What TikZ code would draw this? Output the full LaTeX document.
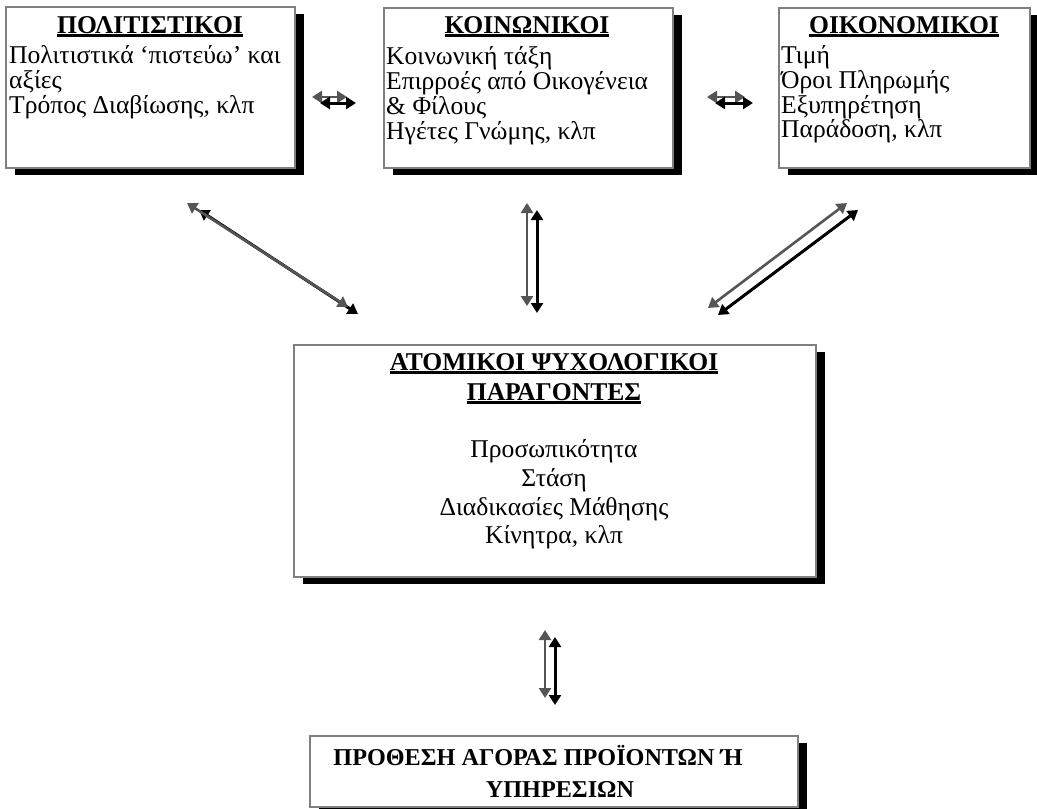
\documentclass[tikz,border=0pt]{standalone}
\usepackage{fontspec}
\setmainfont{Liberation Serif}
\usetikzlibrary{arrows.meta,shadows}
\definecolor{boxgray}{HTML}{808080}
\definecolor{arrgray}{HTML}{555555}
\newlength\ulw
\newcommand\myul[1]{\settowidth\ulw{#1}\rlap{\rule[-4pt]{\ulw}{2.6pt}}#1}
\begin{document}
\begin{tikzpicture}[x=1pt,y=-1pt,
  box/.style={draw=boxgray,line width=1.8pt,fill=white,anchor=north west,inner sep=0,
    drop shadow={shadow xshift=9pt,shadow yshift=-7pt,opacity=1,fill=black}},
  txt/.style={inner sep=0,anchor=base west,font=\fontsize{25.6}{25}\selectfont},
  ttl/.style={inner sep=0,anchor=base,font=\fontsize{25.6}{25}\selectfont\bfseries},
  ctr/.style={inner sep=0,anchor=base,font=\fontsize{25.6}{25}\selectfont},
  bttl/.style={inner sep=0,anchor=base,font=\fontsize{24.2}{25}\selectfont\bfseries},
  garr/.style={draw=arrgray,line width=2.6pt,{Triangle[length=10pt,width=12pt]}-{Triangle[length=10pt,width=12pt]}},
  barr/.style={draw=black,line width=3pt,{Triangle[length=10pt,width=12pt]}-{Triangle[length=10pt,width=12pt]}}]
\useasboundingbox (0,0) rectangle (1037,809);
\fill[white] (0,0) rectangle (1037,809);

% boxes
\node[box,minimum width=289pt,minimum height=161pt] (pol) at (5,6) {};
\node[box,minimum width=289pt,minimum height=160pt] (koi) at (383,7) {};
\node[box,minimum width=251pt,minimum height=160pt] (oik) at (778,7) {};
\node[box,minimum width=522pt,minimum height=232pt] (ato) at (293,344) {};
\node[box,minimum width=488pt,minimum height=71pt] (pro) at (309,735) {};

% box texts
\node[ttl] (pol-t) at (150,33) {\myul{ΠΟΛΙΤΙΣΤΙΚΟΙ}};
\node[txt] (pol-1) at (9,63) {Πολιτιστικά ‘πιστεύω’ και};
\node[txt] (pol-2) at (9,88) {αξίες};
\node[txt] (pol-3) at (9,113) {Τρόπος Διαβίωσης, κλπ};

\node[ttl] (koi-t) at (527,33) {\myul{ΚΟΙΝΩΝΙΚΟΙ}};
\node[txt] (koi-1) at (386,64) {Κοινωνική τάξη};
\node[txt] (koi-2) at (386,89) {Επιρροές από Οικογένεια};
\node[txt] (koi-3) at (386,114) {\& Φίλους};
\node[txt] (koi-4) at (386,139) {Ηγέτες Γνώμης, κλπ};

\node[ttl] (oik-t) at (904,33) {\myul{ΟΙΚΟΝΟΜΙΚΟΙ}};
\node[txt] (oik-1) at (781,63) {Τιμή};
\node[txt] (oik-2) at (781,88) {Όροι Πληρωμής};
\node[txt] (oik-3) at (781,113) {Εξυπηρέτηση};
\node[txt] (oik-4) at (781,137) {Παράδοση, κλπ};

\node[ttl] (ato-t1) at (554,370) {\myul{ΑΤΟΜΙΚΟΙ ΨΥΧΟΛΟΓΙΚΟΙ}};
\node[ttl] (ato-t2) at (554,400) {\myul{ΠΑΡΑΓΟΝΤΕΣ}};
\node[ctr] (ato-1) at (554,457) {Προσωπικότητα};
\node[ctr] (ato-2) at (554,486) {Στάση};
\node[ctr] (ato-3) at (554,515) {Διαδικασίες Μάθησης};
\node[ctr] (ato-4) at (554,543) {Κίνητρα, κλπ};

\node[bttl] (pro-1) at (538,765) {ΠΡΟΘΕΣΗ ΑΓΟΡΑΣ ΠΡΟΪΟΝΤΩΝ Ή};
\node[bttl] (pro-2) at (560,797) {ΥΠΗΡΕΣΙΩΝ};

% connector end points
\coordinate (h1ga) at (312,97);  \coordinate (h1gb) at (347,97);
\coordinate (h1ba) at (320,103); \coordinate (h1bb) at (356,103);
\coordinate (h2ga) at (707,97);  \coordinate (h2gb) at (745,97);
\coordinate (h2ba) at (715,103); \coordinate (h2bb) at (753,103);
\coordinate (dlga) at (187,203); \coordinate (dlgb) at (348,307);
\coordinate (dlba) at (199,210); \coordinate (dlbb) at (358,314);
\coordinate (vmga) at (527,203); \coordinate (vmgb) at (527,306);
\coordinate (vmba) at (537,210); \coordinate (vmbb) at (537,313);
\coordinate (drga) at (847,203); \coordinate (drgb) at (708,308);
\coordinate (drba) at (858,210); \coordinate (drbb) at (718,315);
\coordinate (vbga) at (545,630); \coordinate (vbgb) at (545,698);
\coordinate (vbba) at (555,637); \coordinate (vbbb) at (555,705);

% connectors
\draw[garr] (h1ga) -- (h1gb); \draw[barr] (h1ba) -- (h1bb);
\draw[garr] (h2ga) -- (h2gb); \draw[barr] (h2ba) -- (h2bb);
\draw[barr] (dlba) -- (dlbb); \draw[garr] (dlga) -- (dlgb);
\draw[garr] (vmga) -- (vmgb); \draw[barr] (vmba) -- (vmbb);
\draw[garr] (drga) -- (drgb); \draw[barr] (drba) -- (drbb);
\draw[garr] (vbga) -- (vbgb); \draw[barr] (vbba) -- (vbbb);
\end{tikzpicture}
\end{document}
